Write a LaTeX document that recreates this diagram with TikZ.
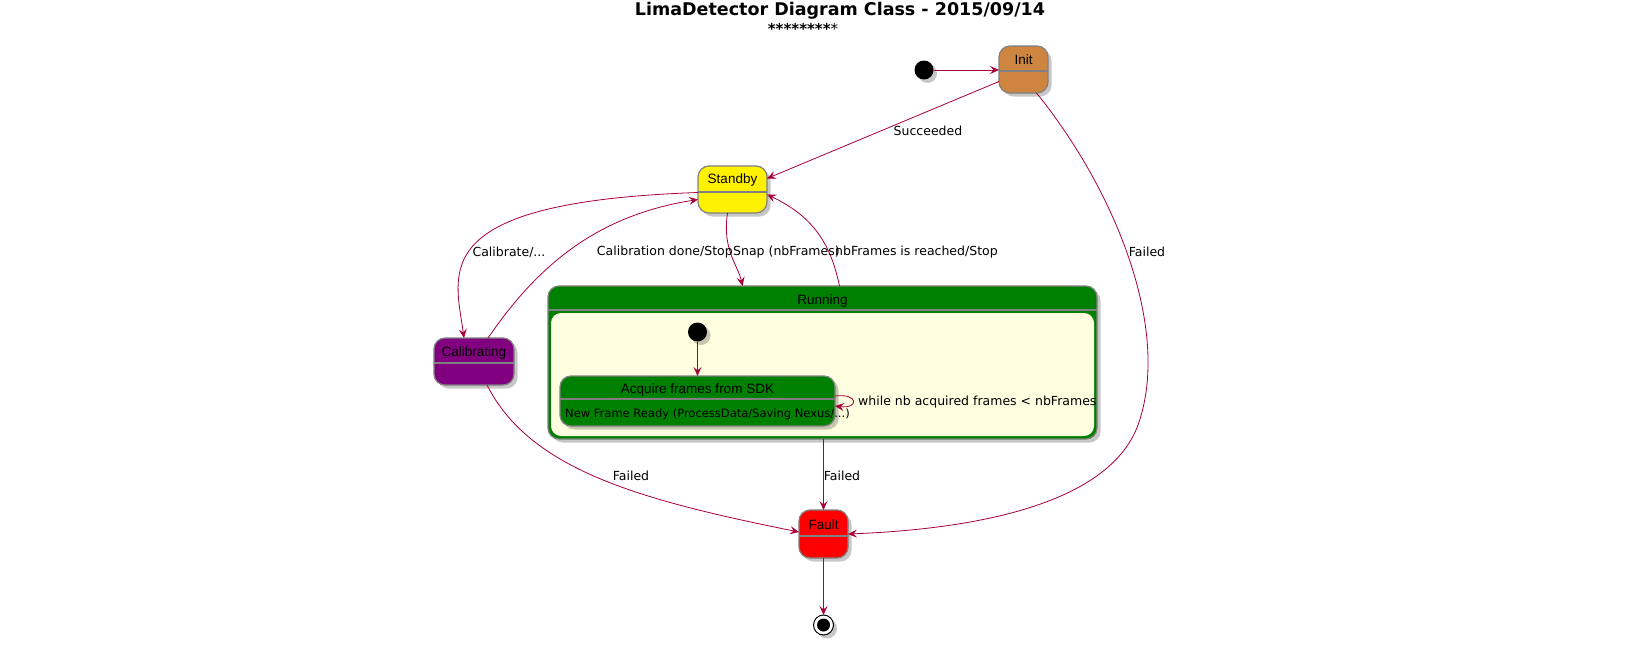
\documentclass[tikz,border=0pt]{standalone}
\usepackage{fontspec}
\setmainfont{DejaVu Sans}
\newfontfamily\arialfont{Liberation Sans}
\usetikzlibrary{calc,shadows,arrows.meta}
\definecolor{edgecol}{HTML}{A80036}
\definecolor{bordercol}{HTML}{808080}
\definecolor{peru}{HTML}{CD853F}
\definecolor{lightyel}{HTML}{FEFEE0}
\definecolor{webgreen}{HTML}{008000}
\definecolor{webpurple}{HTML}{800080}
\tikzset{
	myshadow/.style={drop shadow={shadow xshift=3.5pt, shadow yshift=-3.5pt, opacity=0.22, fill=black}},
	state/.style={draw=bordercol, line width=1.2pt, rounded corners=11pt, inner sep=0pt, outer sep=0pt, myshadow},
	divider/.style={draw=bordercol, line width=1.2pt},
	sname/.style={font=\arialfont\fontsize{13.5}{15}\selectfont, inner sep=0pt},
	lbl/.style={font=\fontsize{12.5}{15}\selectfont, inner sep=0pt},
	trans/.style={draw=edgecol, line width=0.8pt, -{Stealth[length=9pt,width=8pt,inset=3.5pt]}},
	startdot/.style={circle, fill=black, minimum size=19pt, inner sep=0pt, outer sep=0pt, myshadow},
}

\begin{document}
\begin{tikzpicture}[x=1pt, y=-1pt]
			%%%%% START %%%%%
			\useasboundingbox (0,0) rectangle (1647,653);
			
			\node[font=\bfseries\fontsize{17.5}{20}\selectfont, inner sep=0pt] (ttl) at (840,11) {LimaDetector Diagram Class - 2015/09/14};
			\node[font=\fontsize{15}{16}\selectfont, inner sep=0pt] (subttl) at (803,29) {\textbf{********}*};
			
			%% states
			\node[startdot] (start) at (924,70) {};
			
			\node[state, fill=peru, minimum width=49pt, minimum height=47pt] (init) at (1023.5,69.5) {};
			\draw[divider] (init.west |- 0,71) -- (init.east |- 0,71);
			\node[sname] (ninit) at (1023.5,60) {Init};
			
			\node[state, fill=yellow, minimum width=69pt, minimum height=47pt] (standby) at (732.5,189.5) {};
			\draw[divider] (standby.west |- 0,192) -- (standby.east |- 0,192);
			\node[sname] (nstandby) at (732.5,180.5) {Standby};
			
			\node[state, fill=webpurple, minimum width=80pt, minimum height=47pt] (calib) at (474,361.5) {};
			\draw[divider] (calib.west |- 0,363) -- (calib.east |- 0,363);
			\node[sname] (ncalib) at (474,353.5) {Calibrating};
			
			\node[state, fill=webgreen, minimum width=549pt, minimum height=153pt] (running) at (822.5,362.5) {};
			\fill[lightyel, rounded corners=10pt] ($(running.north west)+(3pt,-27pt)$) rectangle ($(running.south east)+(-3pt,3pt)$);
			\draw[divider] (running.west |- 0,310) -- (running.east |- 0,310);
			\node[sname] (nrunning) at (822.5,301.5) {Running};
			
			\node[startdot] (runstart) at (697.5,332) {};
			
			\node[state, fill=webgreen, minimum width=275pt, minimum height=50pt] (acquire) at (697.5,401) {};
			\draw[divider] (acquire.west |- 0,399) -- (acquire.east |- 0,399);
			\node[sname] (nacquire) at (697.5,390) {Acquire frames from SDK};
			\node[font=\fontsize{11.5}{13}\selectfont, inner sep=0pt, anchor=west] (nnewframe) at (565,414) {New Frame Ready (ProcessData/Saving Nexus/...)};
			
			\node[state, fill=red, minimum width=49pt, minimum height=48pt] (fault) at (823.5,534) {};
			\draw[divider] (fault.west |- 0,536) -- (fault.east |- 0,536);
			\node[sname] (nfault) at (823.5,525) {Fault};
			
			\node[circle, draw=black, fill=white, line width=1pt, minimum size=20pt, inner sep=0pt, outer sep=0pt, myshadow] (final) at (823.5,625) {};
			\fill[black] (final) circle (6.5pt);
			
			%% transitions
			\draw[trans] (start) -- (init.west |- start);
			\draw[trans] ([yshift=-12pt]init.west) -- ([yshift=11pt]standby.east);
			\draw[trans] ([xshift=13pt]init.south) .. controls (1115,190) and (1172,330) .. (1138,425) .. controls (1106,512) and (950,530) .. (fault.east);
			\draw[trans] ([yshift=-3pt]standby.west) .. controls (425,202) and (455,272) .. ([xshift=-10pt]calib.north);
			\draw[trans] ([xshift=14pt]calib.north) .. controls (540,262) and (600,215) .. ([yshift=-10pt]standby.west);
			\draw[trans] ([xshift=-5pt]standby.south) .. controls (722,250) and (738,265) .. ([xshift=-80pt]running.north);
			\draw[trans] ([xshift=17pt]running.north) .. controls (830,240) and (810,215) .. ([yshift=-5pt]standby.east);
			\draw[trans] ([xshift=13pt]calib.south) .. controls (530,470) and (640,500) .. ([yshift=2pt]fault.west);
			\draw[trans] (running.south -| fault.north) -- (fault.north);
			\draw[trans] (fault) -- (final);
			\draw[trans] (runstart) -- (acquire);
			\draw[trans] ([yshift=5pt]acquire.east) .. controls +(24pt,3pt) and +(24pt,-3pt) .. ([yshift=-5pt]acquire.east);
			
			%% labels
			\node[lbl] (lsucc) at (928,131) {Succeeded};
			\node[lbl] (lfail1) at (1147,252) {Failed};
			\node[lbl] (lcalib) at (509,252) {Calibrate/...};
			\node[lbl, anchor=east] (ldone) at (733,252) {Calibration done/Stop};
			\node[lbl, anchor=west] (lsnap) at (733,252) {Snap (nbFrames)};
			\node[lbl, anchor=west] (lreach) at (835,252) {nbFrames is reached/Stop};
			\node[lbl, anchor=west] (lwhile) at (858,402) {while nb acquired frames < nbFrames};
			\node[lbl] (lfail2) at (631,476) {Failed};
			\node[lbl] (lfail3) at (842,476) {Failed};
			
			%%%%% END %%%%%
\end{tikzpicture}
\end{document}
